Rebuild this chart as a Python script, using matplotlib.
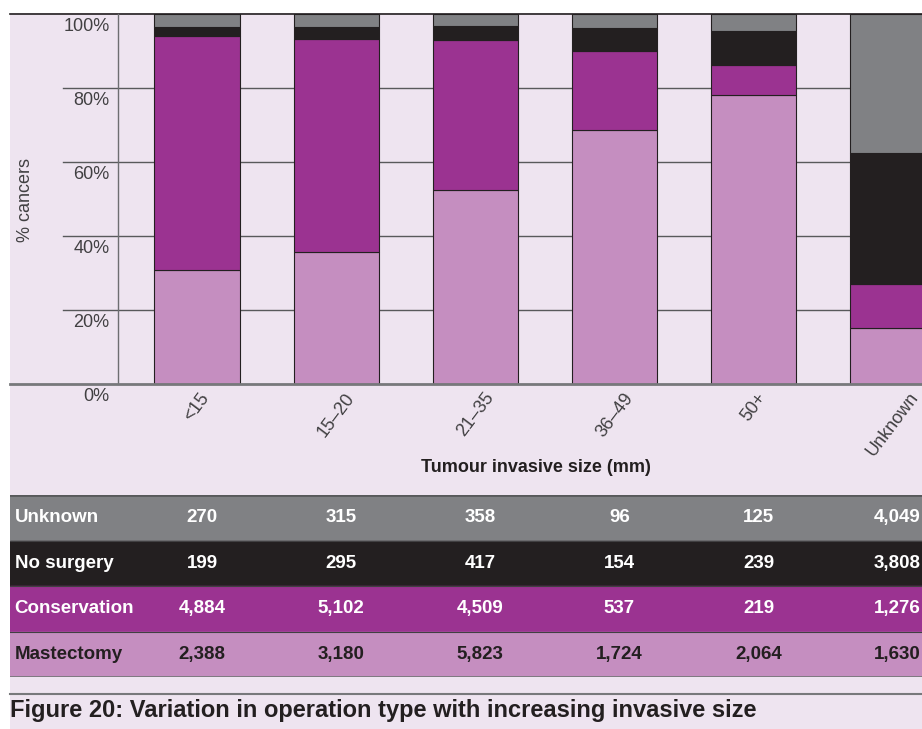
import matplotlib
matplotlib.use('Agg')
import matplotlib.pyplot as plt
import matplotlib.transforms as mtransforms
from matplotlib.patches import Rectangle
from matplotlib.lines import Line2D
import numpy as np

plt.rcParams['font.family'] = ['Liberation Sans', 'DejaVu Sans']

# data
sizes = ['<15', '15\u201320', '21\u201335', '36\u201349', '50+', 'Unknown']
mastectomy = [2388, 3180, 5823, 1724, 2064, 1630]
conservation = [4884, 5102, 4509, 537, 219, 1276]
no_surgery = [199, 295, 417, 154, 239, 3808]
unknown = [270, 315, 358, 96, 125, 4049]

row_names = ['Unknown', 'No surgery', 'Conservation', 'Mastectomy']
row_values = [unknown, no_surgery, conservation, mastectomy]

# colours
BG = '#EEE4F0'
C_UNK = '#808184'
C_NOS = '#231F20'
C_CON = '#9B3391'
C_MAS = '#C58EC0'
GRID = '#58595B'
row_colors = [C_UNK, C_NOS, C_CON, C_MAS]
row_text = ['white', 'white', 'white', '#231F20']

W, H = 922, 729
fig = plt.figure(figsize=(W / 100, H / 100), dpi=100)
fig.patch.set_facecolor('white')


def fx(px):
    return px / W


def fy(py):
    return 1 - py / H


# lavender panel
fig.patches.append(Rectangle((fx(10), 0), 1 - fx(10), fy(13), transform=fig.transFigure,
                             facecolor=BG, edgecolor='none', zorder=-5))

# main chart axes
ax = fig.add_axes([fx(118), fy(384), 1 - fx(118), fy(14) - fy(384)])
ax.set_facecolor('none')

centre0, step = 197.2, 139.1
ax.set_xlim((118 - centre0) / step, (922 - centre0) / step)
ax.set_ylim(0, 100)

x = np.arange(len(sizes))
totals = np.array(mastectomy) + np.array(conservation) + np.array(no_surgery) + np.array(unknown)
bottom = np.zeros(len(sizes))
for vals, col in zip([mastectomy, conservation, no_surgery, unknown], [C_MAS, C_CON, C_NOS, C_UNK]):
    pct = np.array(vals) / totals * 100
    ax.bar(x, pct, bottom=bottom, width=0.615, color=col, edgecolor='#231F20',
           linewidth=0.8, zorder=3)
    bottom += pct

# grid lines
ax_w = 922 - 118
for y in [20, 40, 60, 80]:
    ax.axhline(y, xmin=(63 - 118) / ax_w, xmax=1, color=GRID, lw=1, clip_on=False, zorder=1)
ax.axhline(100, xmin=(10 - 118) / ax_w, xmax=1, color='#231F20', lw=1.2, clip_on=False, zorder=1)
ax.axhline(0, xmin=(10 - 118) / ax_w, xmax=1, color='#77787B', lw=2, clip_on=False, zorder=4)

for s in ['top', 'right', 'bottom']:
    ax.spines[s].set_visible(False)
ax.spines['left'].set_color('#6D6E71')
ax.spines['left'].set_linewidth(1)
ax.spines['left'].set_zorder(2)

ax.set_yticks([0, 20, 40, 60, 80, 100])
ax.set_yticklabels(['0%', '20%', '40%', '60%', '80%', '100%'])
ax.tick_params(axis='y', length=0, pad=6, labelsize=13, labelcolor='#414042')
offset = mtransforms.ScaledTranslation(0, -4 / 100, fig.dpi_scale_trans)
for lab in ax.get_yticklabels():
    lab.set_va('top')
    lab.set_transform(lab.get_transform() + offset)

ax.set_xticks(x)
ax.set_xticklabels(sizes, rotation=53, ha='center', va='top')
ax.tick_params(axis='x', length=0, pad=4, labelsize=13, labelcolor='#414042')

ax.set_ylabel('% cancers', fontsize=13, color='#414042')
ax.yaxis.label.set_va('center')
ax.yaxis.set_label_coords((25 - 118) / ax_w, (384 - 200) / 370)

ax.set_xlabel('Tumour invasive size (mm)', fontsize=13, fontweight='bold', color='#231F20')
ax.xaxis.label.set_va('center')
ax.xaxis.set_label_coords((536 - 118) / ax_w, -(467 - 384) / 370)

# table
tab = fig.add_axes([fx(10), fy(677), 1 - fx(10), fy(495) - fy(677)])
tab.set_xlim((10 - centre0) / step, (922 - centre0) / step)
tab.set_ylim(len(row_names), 0)
tab.axis('off')
for i, (name, vals) in enumerate(zip(row_names, row_values)):
    tab.axhspan(i, i + 1, color=row_colors[i], zorder=1)
    tab.text(0.005, i + 0.5, name, transform=tab.get_yaxis_transform(), ha='left', va='center',
             fontsize=13.5, fontweight='bold', color=row_text[i], zorder=3)
    for j, v in enumerate(vals):
        tab.text(j + 0.035, i + 0.5, f'{v:,}', ha='center', va='center', fontsize=13.5,
                 fontweight='bold', color=row_text[i], zorder=3)
    if i > 0:
        tab.axhline(i, color='#414042', lw=0.8, zorder=2)
tab.axhline(0, color='#58595B', lw=2, zorder=2)
tab.axhline(len(row_names), color='#77787B', lw=2, zorder=2)

# separator and caption
fig.lines.append(Line2D([fx(10), 1], [fy(693.5), fy(693.5)], transform=fig.transFigure,
                        color='#77787B', lw=1.5))
fig.text(fx(10), fy(711), 'Figure 20: Variation in operation type with increasing invasive size',
         ha='left', va='center', fontsize=17, fontweight='bold', color='#231F20')

fig.savefig('out.png', dpi=100)
